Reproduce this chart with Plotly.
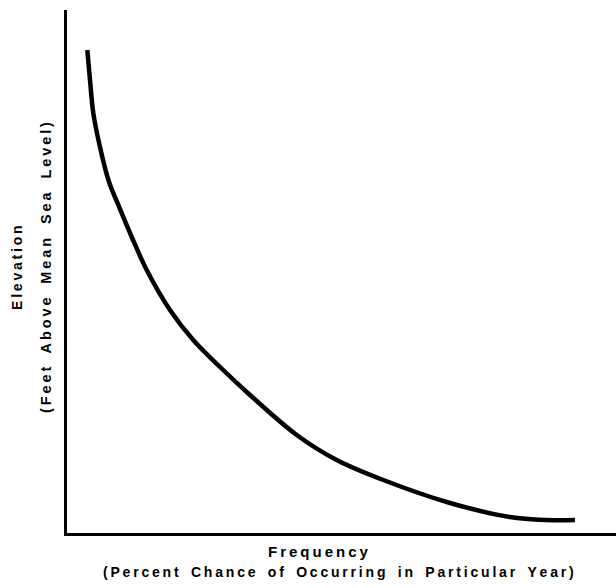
import plotly.graph_objects as go

# Schematic elevation-frequency curve (arbitrary units)
frequency = [3.70, 4.19, 4.79, 6.01, 7.60, 9.65, 11.79, 14.52, 18.76, 22.99, 27.87, 33.33,
             41.84, 49.12, 57.61, 69.76, 80.69, 87.43, 92.53]
elevation = [92.35, 86.62, 80.31, 73.80, 67.30, 61.95, 56.60, 50.29, 42.64, 36.90, 31.74, 26.39,
             18.74, 13.96, 10.13, 5.74, 3.06, 2.49, 2.49]

x_title = ["Frequency", "(Percent Chance of Occurring in Particular Year)"]
y_title = ["Elevation", "(Feet Above Mean Sea Level)"]

W, H = 616, 588
ML, MR, MT, MB = 67, 0, 10, 55
pw = W - ML - MR
ph = H - MT - MB


def spaced(s, wordgap="\u2009"):
    out = []
    for i, ch in enumerate(s):
        out.append(ch)
        if i < len(s) - 1:
            out.append("\u2009")
            if ch == " ":
                out.append(wordgap)
    return "".join(out)


def px_to_paper_x(px):
    return (px - ML) / pw


def py_to_paper_y(py):
    return (H - MB - py) / ph


fig = go.Figure()
fig.add_trace(go.Scatter(
    x=frequency, y=elevation, mode="lines",
    line=dict(color="black", width=4.5, shape="spline", smoothing=1.0),
    hoverinfo="skip", showlegend=False,
))

font = dict(family="Liberation Sans, Arial, sans-serif", color="black", weight="bold")

ann = [
    dict(text=spaced(x_title[0]), x=px_to_paper_x(318), y=py_to_paper_y(551),
         font=dict(font, size=15), textangle=0),
    dict(text=spaced(x_title[1]), x=px_to_paper_x(338), y=py_to_paper_y(572),
         font=dict(font, size=14), textangle=0),
    dict(text=spaced(y_title[0]), x=px_to_paper_x(17), y=py_to_paper_y(268),
         font=dict(font, size=14), textangle=-90),
    dict(text=spaced(y_title[1], wordgap=" "), x=px_to_paper_x(46), y=py_to_paper_y(268),
         font=dict(font, size=14.5), textangle=-90),
]
for a in ann:
    a.update(xref="paper", yref="paper", showarrow=False, xanchor="center", yanchor="middle")

fig.update_layout(
    width=W, height=H,
    margin=dict(l=ML, r=MR, t=MT, b=MB, pad=0),
    paper_bgcolor="white", plot_bgcolor="white",
    annotations=ann,
    xaxis=dict(range=[0, 100], showgrid=False, zeroline=False, showticklabels=False,
               ticks="", showline=True, linecolor="black", linewidth=2.5, fixedrange=True),
    yaxis=dict(range=[0, 100], showgrid=False, zeroline=False, showticklabels=False,
               ticks="", showline=True, linecolor="black", linewidth=2.5, fixedrange=True),
)

fig.write_html("out.html", config={"displayModeBar": False},
               post_script="document.body.style.margin='0';document.body.style.overflow='hidden';")
